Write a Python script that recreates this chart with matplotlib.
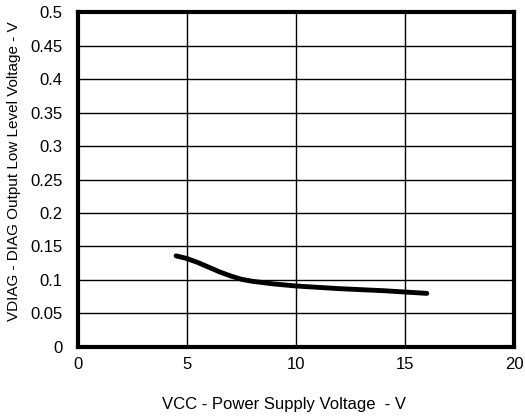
import matplotlib
matplotlib.use('Agg')
import matplotlib.pyplot as plt

# data
vcc = [4.5, 5, 5.5, 6, 6.5, 7, 7.5, 8, 9, 10, 11, 12, 13, 14, 15, 16]
vdiag = [0.136, 0.132, 0.126, 0.119, 0.112, 0.106, 0.101, 0.098, 0.094, 0.091,
         0.089, 0.087, 0.0855, 0.084, 0.082, 0.080]

x_ticks = [0, 5, 10, 15, 20]
y_ticks = [0, 0.05, 0.1, 0.15, 0.2, 0.25, 0.3, 0.35, 0.4, 0.45, 0.5]
y_labels = ['0', '0.05', '0.1', '0.15', '0.2', '0.25', '0.3', '0.35', '0.4', '0.45', '0.5']

plt.rcParams['font.family'] = ['Liberation Sans', 'DejaVu Sans']

fig = plt.figure(figsize=(5.25, 4.16), dpi=100)
ax = fig.add_axes([0.1486, 0.166, 0.8304, 0.805])

ax.plot(vcc, vdiag, color='black', linewidth=3.5, solid_capstyle='round')

ax.set_xlim(0, 20)
ax.set_ylim(0, 0.5)
ax.set_xticks(x_ticks)
ax.set_yticks(y_ticks)
ax.set_yticklabels(y_labels)
ax.grid(True, color='black', linewidth=1)
ax.set_axisbelow(True)
ax.tick_params(length=0, labelsize=12)
ax.tick_params(axis='y', pad=11)
ax.tick_params(axis='x', pad=7)

for s in ax.spines.values():
    s.set_linewidth(3)

ax.set_xlabel('VCC - Power Supply Voltage  - V', fontsize=12)
ax.set_ylabel('VDIAG - DIAG Output Low Level Voltage - V', fontsize=11)
ax.xaxis.set_label_coords(0.472, -0.15)
ax.yaxis.set_label_coords(-0.13, 0.524)

fig.savefig('out.png', dpi=100)
